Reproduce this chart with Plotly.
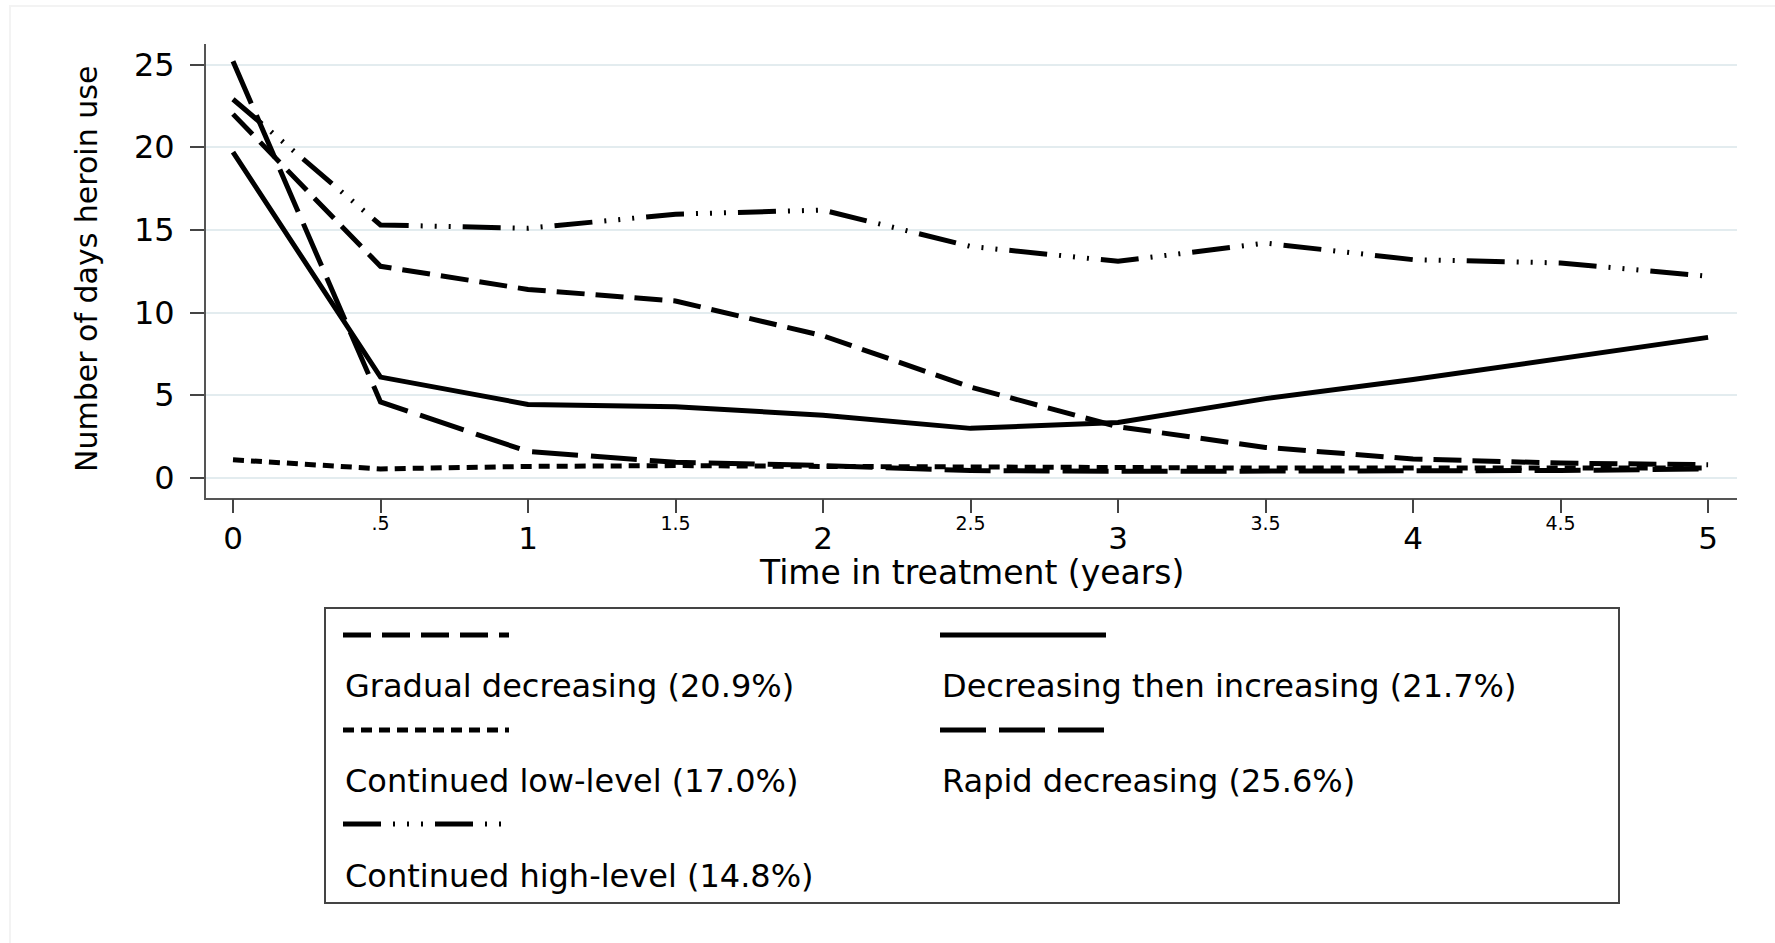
import plotly.graph_objects as go

# ---------------- data ----------------
years = [0, 0.5, 1, 1.5, 2, 2.5, 3, 3.5, 4, 4.5, 5]

gradual_decreasing = [22.0, 12.8, 11.4, 10.7, 8.6, 5.5, 3.1, 1.85, 1.15, 0.9, 0.8]
decreasing_then_increasing = [19.7, 6.1, 4.45, 4.3, 3.8, 3.0, 3.35, 4.8, 5.95, 7.25, 8.5]
continued_low = [1.1, 0.55, 0.7, 0.75, 0.7, 0.65, 0.6, 0.6, 0.6, 0.6, 0.6]
rapid_decreasing = [25.2, 4.6, 1.6, 0.95, 0.75, 0.45, 0.4, 0.4, 0.45, 0.45, 0.55]
continued_high = [22.9, 15.3, 15.1, 15.95, 16.2, 14.0, 13.1, 14.2, 13.2, 13.0, 12.2]

legend_labels = [
    "Gradual decreasing (20.9%)",
    "Decreasing then increasing (21.7%)",
    "Continued low-level (17.0%)",
    "Rapid decreasing (25.6%)",
    "Continued high-level (14.8%)",
]

major_ticks = [0, 1, 2, 3, 4, 5]
minor_ticks = [0.5, 1.5, 2.5, 3.5, 4.5]
minor_tick_text = [".5", "1.5", "2.5", "3.5", "4.5"]
y_ticks = [0, 5, 10, 15, 20, 25]

# ---------------- styles ----------------
FONT = "DejaVu Sans"
LW = 5
styles = {
    "gradual": "28px,11px",
    "dti": "solid",
    "low": "11px,7px",
    "rapid": "46px,13px",
    "high": "38px,12px,2px,12px,2px,12px,2px,12px",
}

W_FIG, H_FIG = 1775, 943
L, R, T, B = 206, 1737, 44, 498
PW, PH = R - L, B - T


def px(x):
    return (x - L) / PW


def py(y):
    return (B - y) / PH


fig = go.Figure()

series = [
    (gradual_decreasing, styles["gradual"], "x", legend_labels[0]),
    (decreasing_then_increasing, styles["dti"], "x", legend_labels[1]),
    (rapid_decreasing, styles["rapid"], "x", legend_labels[3]),
    (continued_high, styles["high"], "x3", legend_labels[4]),
    (continued_low, styles["low"], "x2", legend_labels[2]),
]
for vals, dash, xa, nm in series:
    fig.add_trace(go.Scatter(
        x=years, y=vals, mode="lines", name=nm, xaxis=xa, yaxis="y",
        line=dict(color="black", width=LW, dash=dash),
        showlegend=False, hoverinfo="skip",
    ))

xr = [-0.0915, 5.098]
yr = [-1.21, 26.24]

fig.update_layout(
    width=W_FIG, height=H_FIG,
    margin=dict(l=L, r=W_FIG - R, t=T, b=H_FIG - B, autoexpand=False),
    paper_bgcolor="white", plot_bgcolor="white",
    font=dict(family=FONT, color="black"),
    showlegend=False,
    # major labels (no ticks drawn here)
    xaxis=dict(
        range=xr, tickvals=major_ticks, ticktext=[str(v) for v in major_ticks],
        showgrid=False, zeroline=False, showline=True, linecolor="#555555", linewidth=2,
        ticks="", tickfont=dict(family=FONT, size=31, color="black"),
        ticklabelstandoff=12, fixedrange=True,
    ),
    # minor (half-year) labels
    xaxis2=dict(
        range=xr, overlaying="x", anchor="y", side="bottom",
        tickvals=minor_ticks, ticktext=minor_tick_text,
        showgrid=False, zeroline=False, showline=False, ticks="",
        tickfont=dict(family=FONT, size=19, color="black"),
        ticklabelstandoff=12, fixedrange=True,
    ),
    # tick marks at every half year
    xaxis3=dict(
        range=xr, overlaying="x", anchor="y", side="bottom",
        tickvals=years, showticklabels=False,
        showgrid=False, zeroline=False, showline=False,
        ticks="outside", ticklen=14, tickwidth=2, tickcolor="#444444",
        fixedrange=True,
    ),
    yaxis=dict(
        range=yr, tickvals=y_ticks, ticktext=[str(v) for v in y_ticks],
        showgrid=True, gridcolor="#e3ecef", gridwidth=2,
        zeroline=False, showline=True, linecolor="#555555", linewidth=2,
        ticks="outside", ticklen=14, tickwidth=2, tickcolor="#444444",
        tickfont=dict(family=FONT, size=32, color="black"),
        ticklabelstandoff=9, fixedrange=True,
    ),
)

shapes = []
annotations = []

# axis titles
annotations.append(dict(
    text="Number of days heroin use", x=px(86), y=py(269), xref="paper", yref="paper",
    textangle=-90, showarrow=False, xanchor="center", yanchor="middle",
    font=dict(family=FONT, size=30, color="black"),
))
annotations.append(dict(
    text="Time in treatment (years)", x=px(971), y=py(572), xref="paper", yref="paper",
    showarrow=False, xanchor="center", yanchor="middle",
    font=dict(family=FONT, size=33, color="black"),
))

# faint outer frame
shapes.append(dict(type="rect", xref="paper", yref="paper",
                   x0=px(10), x1=px(1790), y0=py(6), y1=py(960),
                   line=dict(color="#f3f3f3", width=2), fillcolor="rgba(0,0,0,0)", layer="below"))

# legend box
shapes.append(dict(type="rect", xref="paper", yref="paper",
                   x0=px(325), x1=px(1619), y0=py(608), y1=py(903),
                   line=dict(color="#444444", width=2), fillcolor="rgba(0,0,0,0)"))

col_x = [343, 940]
sym_w = 166
sym_rows = [635, 730, 824]
txt_rows = [686, 781, 876]
legend_items = [
    (legend_labels[0], styles["gradual"], 0, 0),
    (legend_labels[1], styles["dti"], 1, 0),
    (legend_labels[2], styles["low"], 0, 1),
    (legend_labels[3], styles["rapid"], 1, 1),
    (legend_labels[4], styles["high"], 0, 2),
]
for label, dash, c, r in legend_items:
    x0 = col_x[c]
    shapes.append(dict(type="line", xref="paper", yref="paper",
                       x0=px(x0), x1=px(x0 + sym_w), y0=py(sym_rows[r]), y1=py(sym_rows[r]),
                       line=dict(color="black", width=LW, dash=dash)))
    annotations.append(dict(
        text=label, x=px(x0), y=py(txt_rows[r]), xref="paper", yref="paper",
        showarrow=False, xanchor="left", yanchor="middle",
        font=dict(family=FONT, size=32, color="black"),
    ))

fig.update_layout(shapes=shapes, annotations=annotations)

fig.write_html("out.html", config={"displayModeBar": False},
               post_script="document.body.style.margin='0';")
